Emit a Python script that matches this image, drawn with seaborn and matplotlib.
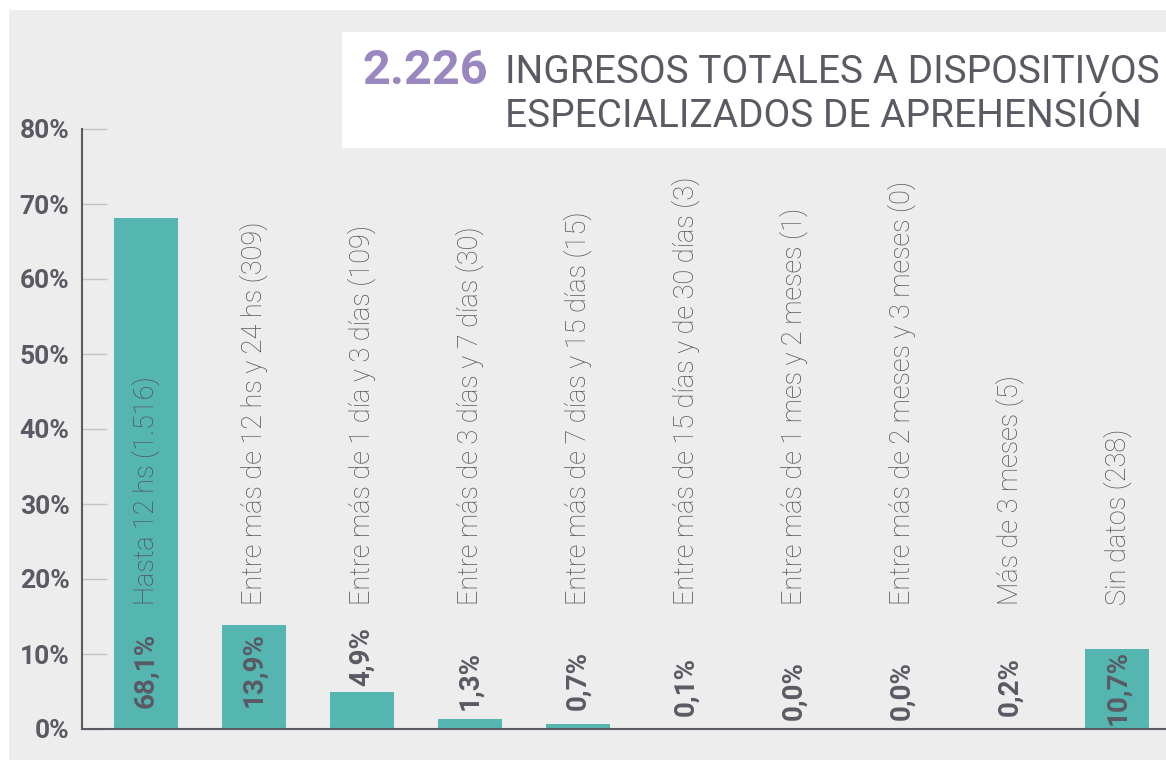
import matplotlib
matplotlib.use("Agg")
import matplotlib.pyplot as plt
import seaborn as sns
import pandas as pd
from matplotlib.patches import Rectangle

categories = [
    "Hasta 12 hs (1.516)",
    "Entre más de 12 hs y 24 hs (309)",
    "Entre más de 1 día y 3 días (109)",
    "Entre más de 3 días y 7 días (30)",
    "Entre más de 7 días y 15 días (15)",
    "Entre más de 15 días y de 30 días (3)",
    "Entre más de 1 mes y 2 meses (1)",
    "Entre más de 2 meses y 3 meses (0)",
    "Más de 3 meses (5)",
    "Sin datos (238)",
]
values = [68.1, 13.9, 4.9, 1.3, 0.7, 0.1, 0.0, 0.0, 0.2, 10.7]
value_labels = ["68,1%", "13,9%", "4,9%", "1,3%", "0,7%", "0,1%", "0,0%", "0,0%", "0,2%", "10,7%"]
yticks = [0, 10, 20, 30, 40, 50, 60, 70, 80]
ytick_labels = ["0%", "10%", "20%", "30%", "40%", "50%", "60%", "70%", "80%"]
total_label = "2.226"
title_lines = ["INGRESOS TOTALES A DISPOSITIVOS", "ESPECIALIZADOS DE APREHENSIÓN"]

# layout: vertical centre of each value label (axis units)
label_centres = [7.8, 7.9, 9.7, 6.5, 6.5, 5.7, 5.1, 5.1, 5.7, 5.6]

sns.set_theme(style="white")
plt.rcParams["font.family"] = ["Roboto", "DejaVu Sans"]

W, H = 1166, 760
fig = plt.figure(figsize=(W / 100, H / 100), dpi=100, facecolor="white")
BG = "#ededed"
TEAL = "#55b5b0"
GRAY = "#5a5a64"

fig.patches.append(Rectangle((9 / W, 0), 1 - 9 / W, (H - 10) / H, transform=fig.transFigure,
                             facecolor=BG, edgecolor="none", zorder=-5))

ax = fig.add_axes([82 / W, 1 - 729 / H, 1 - 82 / W, (729 - 129) / H])
ax.patch.set_visible(False)

df = pd.DataFrame({"cat": categories, "val": values})
sns.barplot(data=df, x="cat", y="val", color=TEAL, saturation=1, width=0.593,
            linewidth=0, edgecolor="none", ax=ax)

ax.set_xlim(-0.593, 9.45)
ax.set_ylim(0, 80)
ax.set_xlabel("")
ax.set_ylabel("")
ax.set_xticks([])
ax.set_yticks(yticks)
ax.set_yticklabels(ytick_labels)
ax.tick_params(axis="y", left=True, direction="in", length=18, width=1, color="#c4c4c4", pad=9,
               labelsize=19, labelcolor=GRAY)
for lab in ax.get_yticklabels():
    lab.set_fontweight("bold")
for s in ["top", "right"]:
    ax.spines[s].set_visible(False)
for s in ["left", "bottom"]:
    ax.spines[s].set_color(GRAY)
    ax.spines[s].set_linewidth(1.5)

for i, (cat, lab) in enumerate(zip(categories, value_labels)):
    ax.text(i, 16.5, cat, rotation=90, ha="center", va="bottom", fontsize=19.5,
            fontweight="light", color="#50505a")
    ax.text(i, label_centres[i], lab, rotation=90, ha="center", va="center", fontsize=20,
            fontweight="bold", color=GRAY)

fig.patches.append(Rectangle((342 / W, 1 - 148 / H), 1 - 342 / W, 116 / H, transform=fig.transFigure,
                             facecolor="white", edgecolor="none", zorder=1))
fig.text(362 / W, 1 - 84 / H, total_label, fontsize=35, fontweight="bold", color="#9b87c0",
         ha="left", va="baseline", zorder=2)
fig.text(505 / W, 1 - 83 / H, title_lines[0], fontsize=28, color=GRAY, ha="left", va="baseline",
         zorder=2)
fig.text(505 / W, 1 - 127 / H, title_lines[1], fontsize=28, color=GRAY, ha="left", va="baseline",
         zorder=2)

fig.savefig("out.png", dpi=100, facecolor="white")
